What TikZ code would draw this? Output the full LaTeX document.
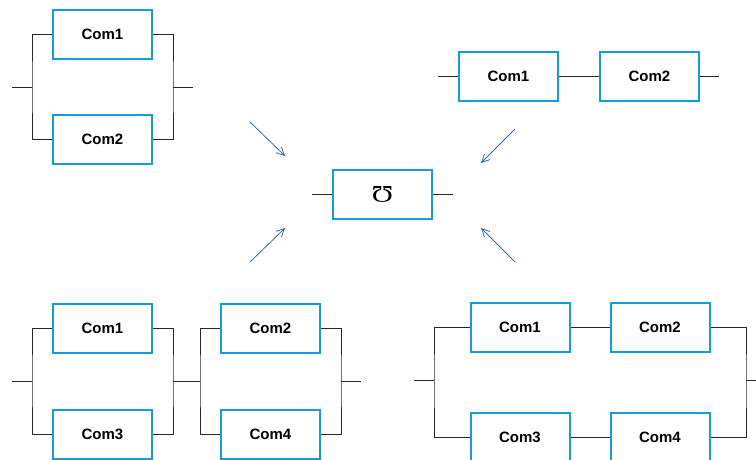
\documentclass[tikz,border=0pt]{standalone}
\usepackage{fontspec}
\setmainfont{Liberation Sans}
\newfontfamily\symserif{Liberation Serif}
\usetikzlibrary{arrows.meta, positioning}
\definecolor{boxblue}{RGB}{20,158,214}
\definecolor{arrowblue}{RGB}{46,104,170}
\tikzset{
  comp/.style={draw=boxblue, line width=2pt, minimum width=99pt, minimum height=49pt,
    inner sep=0pt, font=\fontsize{15}{18}\selectfont\bfseries},
  wire/.style={black!85, line width=0.9pt},
  toward/.style={arrowblue, line width=0.8pt, -{Straight Barb[length=8pt, width=8pt]}}
}
\begin{document}
\begin{tikzpicture}[x=1pt, y=-1pt]
  \useasboundingbox (0,0) rectangle (756,459);
  \clip (0,0) rectangle (756,459);

  % parallel pair (top left)
  \node[comp] (tla) at (102.5,34) {Com1};
  \node[comp] (tlb) at (102.5,139) {Com2};
  \coordinate (tlin) at (12,87);
  \coordinate (tlL) at (32,87);
  \coordinate (tlR) at (173,87);
  \coordinate (tlout) at (193,87);
  \draw[wire] (tla.west) -| (tlL) |- (tlb.west);
  \draw[wire] (tla.east) -| (tlR) |- (tlb.east);
  \draw[wire] (tlin) -- (tlL);
  \draw[wire] (tlR) -- (tlout);

  % series pair (top right)
  \node[comp] (tra) at (508.5,76.5) {Com1};
  \node[comp] (trb) at (649.5,76.5) {Com2};
  \coordinate (trin) at (438,76.5);
  \coordinate (trout) at (719,76.5);
  \draw[wire] (trin) -- (tra.west);
  \draw[wire] (tra.east) -- (trb.west);
  \draw[wire] (trb.east) -- (trout);

  % equivalent element
  \node[comp, font=\fontsize{24}{28}\selectfont\symserif] (eq) at (382.5,194.5)
    {\rotatebox{180}{\scalebox{1.2}[1]{Ω}}};
  \coordinate (eqin) at (312,194.5);
  \coordinate (eqout) at (453,194.5);
  \draw[wire] (eqin) -- (eq.west);
  \draw[wire] (eq.east) -- (eqout);

  % arrows towards the centre
  \coordinate (a1s) at (250,122); \coordinate (a1e) at (285,156);
  \coordinate (a2s) at (515,129); \coordinate (a2e) at (481,163);
  \coordinate (a3s) at (250,262); \coordinate (a3e) at (285,228);
  \coordinate (a4s) at (515,262); \coordinate (a4e) at (481,228);
  \foreach \i in {1,...,4}
    \draw[toward] (a\i s) -- (a\i e);

  % parallel-series (bottom left)
  \node[comp] (bla) at (102.5,328.5) {Com1};
  \node[comp] (blc) at (102.5,434) {Com3};
  \node[comp] (blb) at (270.5,328.5) {Com2};
  \node[comp] (bld) at (270.5,434) {Com4};
  \coordinate (blin) at (12,381);
  \coordinate (blL) at (32,381);
  \coordinate (blM) at (173,381);
  \coordinate (blN) at (200,381);
  \coordinate (blR) at (341,381);
  \coordinate (blout) at (361,381);
  \draw[wire] (bla.west) -| (blL) |- (blc.west);
  \draw[wire] (bla.east) -| (blM) |- (blc.east);
  \draw[wire] (blb.west) -| (blN) |- (bld.west);
  \draw[wire] (blb.east) -| (blR) |- (bld.east);
  \draw[wire] (blin) -- (blL);
  \draw[wire] (blM) -- (blN);
  \draw[wire] (blR) -- (blout);

  % series-parallel (bottom right)
  \node[comp] (bra) at (520,327.5) {Com1};
  \node[comp] (brb) at (660,327.5) {Com2};
  \node[comp] (brc) at (520,437) {Com3};
  \node[comp] (brd) at (660,437) {Com4};
  \coordinate (brin) at (414,380);
  \coordinate (brL) at (434,380);
  \coordinate (brR) at (746,380);
  \coordinate (brout) at (758,380);
  \draw[wire] (bra.west) -| (brL) |- (brc.west);
  \draw[wire] (brb.east) -| (brR) |- (brd.east);
  \draw[wire] (bra.east) -- (brb.west);
  \draw[wire] (brc.east) -- (brd.west);
  \draw[wire] (brin) -- (brL);
  \draw[wire] (brR) -- (brout);
\end{tikzpicture}
\end{document}
